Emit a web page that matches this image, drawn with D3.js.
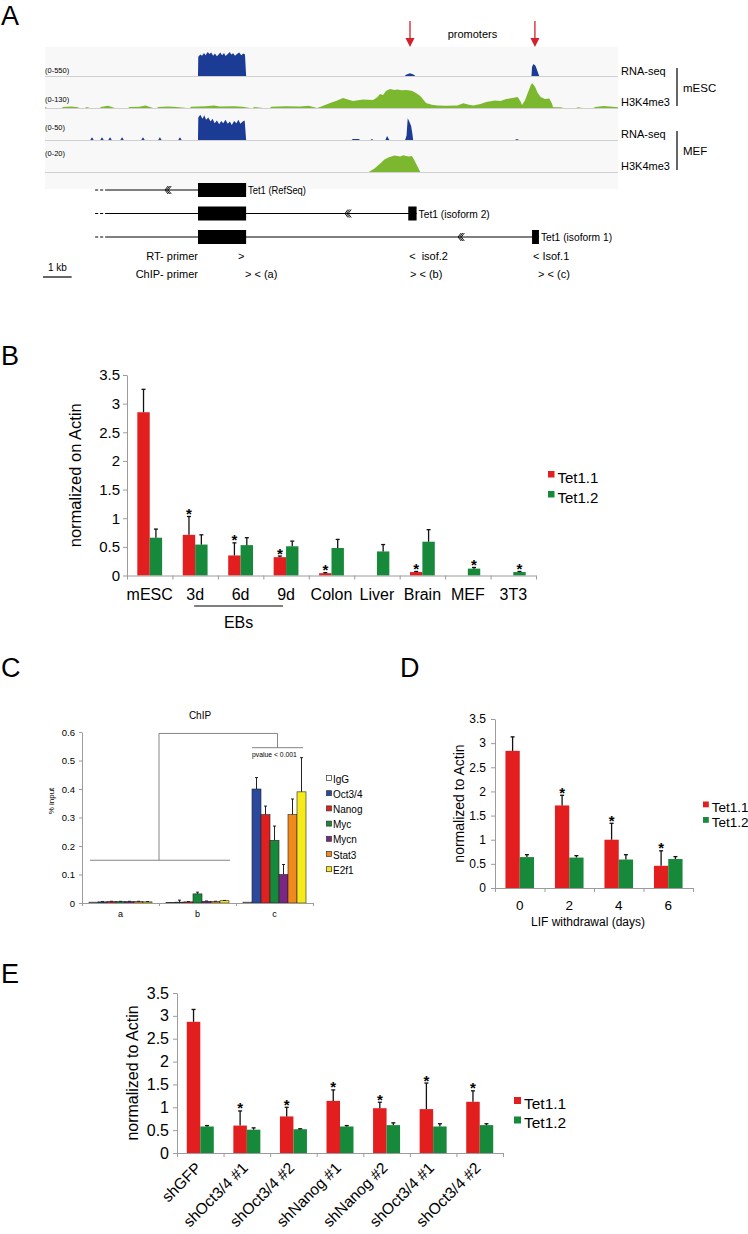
<!DOCTYPE html>
<html>
<head>
<meta charset="utf-8">
<script src="https://cdn.jsdelivr.net/npm/d3@7"></script>
<style>
body { margin: 0; background: #fff; }
text { font-family: "Liberation Sans", Arial, Helvetica, sans-serif; }
</style>
</head>
<body>
<script>
var W = 748, H = 1234;
var RED = "#e31e1e", GREEN = "#17893a";

// ---------- panel A data (genomic positions in kb)
var rnaEsc = [[5.34,0],[5.35,380],[5.42,420],[5.48,400],[5.55,450],[5.6,410],[5.68,470],[5.74,430],[5.8,460],[5.87,400],[5.93,440],[6.0,390],[6.06,420],[6.12,460],[6.18,410],[6.25,450],[6.3,395],[6.38,430],[6.45,470],[6.5,420],[6.57,445],[6.63,400],[6.7,430],[6.78,460],[6.85,410],[6.92,440],[6.98,420],[7.02,0],
  [12.55,0],[12.62,30],[12.74,55],[12.86,30],[12.93,0],
  [16.98,0],[17.0,180],[17.05,235],[17.12,200],[17.2,80],[17.25,0]];
var k4Esc = [[0,0],[0.02,5],[0.07,0],[0.59,0],[0.62,5],[0.9,7],[1.1,5],[1.22,0],[1.4,0],[1.45,5],[1.57,0],
  [1.92,0],[1.95,5],[2.2,10],[2.44,0],[2.9,0],[2.95,5],[3.3,6],[3.5,12],[3.77,0],[3.91,0],[3.95,5],[4.3,7],[4.6,5],[4.96,0],
  [5.06,0],[5.1,6],[5.6,8],[5.9,12],[6.1,7],[6.6,8],[6.9,6],[7.16,0],[7.26,0],[7.3,5],[7.61,0],
  [7.85,0],[7.9,6],[8.4,8],[8.9,7],[9.2,10],[9.49,0],
  [9.6,5],[9.95,23],[10.2,35],[10.4,46],[10.75,32],[11.1,40],[11.45,37],[11.6,50],[11.69,65],[11.8,60],[11.9,79],[12.04,88],[12.2,83],[12.3,86],[12.45,82],[12.6,84],[12.8,80],[12.95,70],[13.1,56],[13.3,23],[13.5,15],[13.7,12],[14.0,10],[14.4,12],[14.6,22],[14.8,15],[14.95,12],[15.2,18],[15.4,28],[15.7,35],[15.9,33],[16.1,42],[16.3,46],[16.5,51],[16.6,30],[16.65,14],[16.75,35],[16.85,70],[16.95,105],[17.0,116],[17.1,100],[17.2,70],[17.3,51],[17.45,42],[17.6,44],[17.7,20],[17.73,4],[17.9,4],[18.0,3],[18.1,0],
  [18.55,0],[18.6,3],[18.75,0],[19.15,0],[19.2,5],[19.5,9],[19.8,6],[20,4]];
var rnaMef = [[1.58,0],[1.64,5],[1.7,0],[1.93,0],[1.99,5],[2.05,0],[2.21,0],[2.27,5],[2.33,0],[2.63,0],[2.69,5],[2.75,0],
  [3.36,0],[3.42,5],[3.48,0],[3.95,0],[4.01,5],[4.07,0],[4.65,0],[4.71,5],[4.77,0],
  [5.34,0],[5.35,40],[5.42,45],[5.5,38],[5.56,44],[5.62,36],[5.7,40],[5.78,33],[5.85,38],[5.92,30],[6.0,35],[6.08,28],[6.15,34],[6.22,30],[6.3,36],[6.38,29],[6.45,33],[6.52,27],[6.6,34],[6.68,30],[6.75,36],[6.82,29],[6.9,33],[6.97,35],[7.02,0],
  [10.7,0],[10.75,2],[10.95,2],[11.0,0],[11.36,0],[11.41,2],[11.46,0],
  [11.88,0],[11.94,7],[12.02,0],[12.57,0],[12.62,8],[12.66,39],[12.7,35],[12.74,30],[12.78,25],[12.82,12],[12.85,0],
  [16.4,0],[16.47,2],[16.55,0]];
var k4Mef = [[11.3,0],[11.5,2.5],[11.7,6],[11.85,9],[12.0,10.5],[12.1,11],[12.2,11.8],[12.3,11.5],[12.4,11],[12.5,12],[12.6,11.5],[12.7,11],[12.8,11.5],[12.85,10],[12.95,6],[13.05,2],[13.1,0]];
var trackRanges = ["(0-550)", "(0-130)", "(0-50)", "(0-20)"];
var trackMax = [550, 130, 50, 20];
var trackTypes = ["RNA-seq", "H3K4me3", "RNA-seq", "H3K4me3"];
var cellTypes = ["mESC", "MEF"];
var isoNames = ["Tet1 (RefSeq)", "Tet1 (isoform 2)", "Tet1 (isoform 1)"];
var isoExons = [[[5.34,7.02]], [[5.34,7.02],[12.68,12.97]], [[5.34,7.02],[17.0,17.24]]];
var isoChevron = [4.19, 10.47, 14.42];
var isoStart = [1.75, 2.2];
var promoterKb = [12.74, 17.1];
var rtPrimers = [[6.74, ">"], [12.71, "<  isof.2"], [17.03, "< Isof.1"]];
var chipPrimers = [[6.98, "> < (a)"], [12.74, "> < (b)"], [17.21, "> < (c)"]];

// ---------- panel B data
var bCats = ["mESC", "3d", "6d", "9d", "Colon", "Liver", "Brain", "MEF", "3T3"];
var bTet11 = [2.85, 0.71, 0.35, 0.32, 0.04, 0, 0.06, 0, 0];
var bTet11Err = [0.40, 0.32, 0.22, 0.02, 0.01, 0, 0.01, 0, 0];
var bTet12 = [0.66, 0.54, 0.53, 0.51, 0.48, 0.42, 0.59, 0.12, 0.06];
var bTet12Err = [0.15, 0.17, 0.13, 0.09, 0.15, 0.12, 0.21, 0.02, 0.01];
var bStar11 = [0, 1, 1, 1, 1, 0, 1, 0, 0];
var bStar12 = [0, 0, 0, 0, 0, 0, 0, 1, 1];

// ---------- panel C data
var cSites = ["a", "b", "c"];
var cFactors = ["IgG", "Oct3/4", "Nanog", "Myc", "Mycn", "Stat3", "E2f1"];
var cColors = ["#ffffff", "#2b4a9e", "#e0201e", "#17893a", "#7a2784", "#f08a1c", "#f6ea1a"];
var cSiteA = [0.003, 0.004, 0.005, 0.005, 0.005, 0.005, 0.004];
var cSiteAErr = [0, 0.001, 0.001, 0.001, 0.001, 0.001, 0.001];
var cSiteB = [0.002, 0.003, 0.004, 0.032, 0.006, 0.005, 0.008];
var cSiteBErr = [0, 0.007, 0.001, 0.006, 0.001, 0.001, 0.001];
var cSiteC = [0.003, 0.40, 0.31, 0.22, 0.10, 0.31, 0.39];
var cSiteCErr = [0, 0.04, 0.03, 0.05, 0.035, 0.055, 0.12];
var cBracket = [0.15, 0.595, 0.545];

// ---------- panel D data
var dCats = ["0", "2", "4", "6"];
var dTet11 = [2.84, 1.71, 1.00, 0.46];
var dTet11Err = [0.29, 0.21, 0.34, 0.31];
var dTet12 = [0.64, 0.63, 0.59, 0.60];
var dTet12Err = [0.05, 0.04, 0.10, 0.05];
var dStar11 = [0, 1, 1, 1];

// ---------- panel E data
var eCats = ["shGFP", "shOct3/4 #1", "shOct3/4 #2", "shNanog #1", "shNanog #2", "shOct3/4 #1", "shOct3/4 #2"];
var eTet11 = [2.87, 0.60, 0.80, 1.14, 0.98, 0.96, 1.12];
var eTet11Err = [0.27, 0.32, 0.20, 0.24, 0.13, 0.57, 0.24];
var eTet12 = [0.58, 0.51, 0.52, 0.58, 0.61, 0.58, 0.61];
var eTet12Err = [0.02, 0.04, 0.01, 0.02, 0.05, 0.06, 0.03];
var eStar11 = [0, 1, 1, 1, 1, 1, 1];

var yTicks = [0, 0.5, 1, 1.5, 2, 2.5, 3, 3.5];
var seriesNames = ["Tet1.1", "Tet1.2"];

var svg = d3.select("body").append("svg")
  .attr("width", W)
  .attr("height", H);
svg.append("rect").attr("width", W).attr("height", H).attr("fill", "#fff");

function letter(t, x, y) {
  svg.append("text").attr("x", x).attr("y", y).attr("font-size", 27).text(t);
}

function styleAxis(g, size) {
  g.attr("font-family", null).attr("font-size", size);
  g.select(".domain").attr("stroke", "#9c9c9c");
  g.selectAll(".tick line").attr("stroke", "#9c9c9c");
  g.selectAll(".tick text").attr("fill", "#000");
}

// =============== A ===============
letter("A", 1, 25);
var xA = d3.scaleLinear().domain([0, 20]).range([45, 618]);
var trackBase = [76, 108, 140, 172];
var labelY = [73, 102, 130, 156];
var trackColor = ["#1b3b94", "#7cb82f", "#1b3b94", "#7cb82f"];
var trackData = [rnaEsc, k4Esc, rnaMef, k4Mef];
var gA = svg.append("g");
gA.append("rect")
  .attr("x", xA(0)).attr("y", 47)
  .attr("width", xA(20) - xA(0)).attr("height", 142)
  .attr("fill", "#f8f8f8");

trackData.forEach(function(data, i) {
  var y = d3.scaleLinear().domain([0, trackMax[i]]).range([trackBase[i], trackBase[i] - 28]);
  var area = d3.area().x(function(d) { return xA(d[0]); }).y0(y(0)).y1(function(d) { return y(d[1]); });
  gA.append("line")
    .attr("x1", xA(0)).attr("x2", xA(20))
    .attr("y1", trackBase[i] + 0.5).attr("y2", trackBase[i] + 0.5)
    .attr("stroke", "#cfcfcf");
  gA.append("path").datum(data).attr("d", area).attr("fill", trackColor[i]);
  gA.append("text").attr("x", xA(0)).attr("y", labelY[i])
    .attr("font-size", 7.5).text(trackRanges[i]);
});

// right labels and brackets
var typeY = [75, 106, 138, 170];
trackTypes.forEach(function(t, i) {
  gA.append("text").attr("x", 621).attr("y", typeY[i]).attr("font-size", 11).text(t);
});
cellTypes.forEach(function(c, i) {
  gA.append("line").attr("x1", 677).attr("x2", 677)
    .attr("y1", typeY[i * 2] - 7).attr("y2", typeY[i * 2 + 1])
    .attr("stroke", "#000").attr("stroke-width", 1.2);
  gA.append("text").attr("x", 683).attr("y", (typeY[i * 2] + typeY[i * 2 + 1]) / 2 + 1)
    .attr("font-size", 11.5).text(c);
});

// promoter arrows
promoterKb.forEach(function(p) {
  var x = xA(p);
  gA.append("line").attr("x1", x).attr("x2", x).attr("y1", 21).attr("y2", 39)
    .attr("stroke", "#d4202a").attr("stroke-width", 1.3);
  gA.append("path")
    .attr("d", "M" + (x - 4.5) + ",38L" + (x + 4.5) + ",38L" + x + ",47Z")
    .attr("fill", "#d4202a");
});
gA.append("text").attr("x", (xA(promoterKb[0]) + xA(promoterKb[1])) / 2).attr("y", 38)
  .attr("font-size", 11).attr("text-anchor", "middle").text("promoters");

// gene models
var rowY = [190, 213.5, 237];
isoNames.forEach(function(name, i) {
  var y = rowY[i];
  var exons = isoExons[i];
  var end = exons[exons.length - 1][1];
  gA.append("line").attr("x1", xA(isoStart[0])).attr("x2", xA(isoStart[1]))
    .attr("y1", y).attr("y2", y).attr("stroke", "#000").attr("stroke-dasharray", "3,2");
  gA.append("line").attr("x1", xA(isoStart[1])).attr("x2", xA(end))
    .attr("y1", y).attr("y2", y).attr("stroke", "#000").attr("stroke-width", 1.2);
  exons.forEach(function(e) {
    gA.append("rect").attr("x", xA(e[0])).attr("y", y - 7)
      .attr("width", xA(e[1]) - xA(e[0])).attr("height", 14).attr("fill", "#000");
  });
  var cx = xA(isoChevron[i]);
  [0, 1.6, 3.2].forEach(function(o) {
    gA.append("polyline")
      .attr("points", (cx + o + 3) + "," + (y - 4) + " " + (cx + o) + "," + y + " " + (cx + o + 3) + "," + (y + 4))
      .attr("fill", "none").attr("stroke", "#000").attr("stroke-width", 0.9);
  });
  gA.append("text").attr("x", xA(end) + 2).attr("y", y + 4)
    .attr("font-size", 10)
    .attr("textLength", name.length * 4.45).attr("lengthAdjust", "spacingAndGlyphs")
    .text(name);
});

// primers
gA.append("text").attr("x", xA(isoExons[0][0][0])).attr("y", 260)
  .attr("font-size", 11).attr("text-anchor", "end").text("RT- primer");
gA.append("text").attr("x", xA(isoExons[0][0][0])).attr("y", 278)
  .attr("font-size", 11).attr("text-anchor", "end").text("ChIP- primer");
rtPrimers.forEach(function(p) {
  gA.append("text").attr("x", xA(p[0])).attr("y", 260).attr("font-size", 11)
    .attr("xml:space", "preserve").style("white-space", "pre").text(p[1]);
});
chipPrimers.forEach(function(p) {
  gA.append("text").attr("x", xA(p[0])).attr("y", 278).attr("font-size", 11).text(p[1]);
});
gA.append("text").attr("x", 48).attr("y", 271).attr("font-size", 10).text("1 kb");
gA.append("line").attr("x1", xA(0) - 2).attr("x2", xA(1) - 2)
  .attr("y1", 277).attr("y2", 277).attr("stroke", "#000").attr("stroke-width", 1.2);

// =============== bar chart helper (B, D, E) ===============
function barChart(cfg, cats, v1, e1, v2, e2, s1, s2) {
  var g = svg.append("g");
  var idx = d3.range(cats.length);
  var x = d3.scaleBand().domain(idx).range([cfg.left, cfg.right]);
  var xb = d3.scaleLinear().domain([0, cats.length]).range([cfg.left, cfg.right]);
  var y = d3.scaleLinear().domain([0, 3.5]).range([cfg.bottom, cfg.top]);

  [[v1, e1, s1, RED, -1], [v2, e2, s2, GREEN, 0]].forEach(function(s) {
    var left = function(i) { return x(i) + x.bandwidth() / 2 + s[4] * cfg.barW; };
    var mid = function(i) { return left(i) + cfg.barW / 2; };
    g.selectAll(null).data(s[0]).enter().append("rect")
      .attr("x", function(d, i) { return left(i); })
      .attr("width", cfg.barW)
      .attr("y", function(d) { return y(d); })
      .attr("height", function(d) { return y(0) - y(d); })
      .attr("fill", s[3]);
    idx.forEach(function(i) {
      var v = s[0][i], e = s[1][i];
      if (e > 0) {
        g.append("line").attr("x1", mid(i)).attr("x2", mid(i))
          .attr("y1", y(v)).attr("y2", y(v + e)).attr("stroke", "#111").attr("stroke-width", 1.3);
        g.append("line").attr("x1", mid(i) - 2).attr("x2", mid(i) + 2)
          .attr("y1", y(v + e)).attr("y2", y(v + e)).attr("stroke", "#111").attr("stroke-width", 1.3);
      }
      if (s[2] && s[2][i]) {
        g.append("text").attr("x", mid(i)).attr("y", y(v + e) + 2.5)
          .attr("font-size", 15).attr("font-weight", "bold").attr("text-anchor", "middle").text("*");
      }
    });
  });

  var ya = g.append("g").attr("transform", "translate(" + cfg.left + ",0)")
    .call(d3.axisLeft(y).tickValues(yTicks).tickFormat(d3.format("")).tickSize(4).tickPadding(cfg.yPad).tickSizeOuter(0));
  styleAxis(ya, cfg.tickFont);
  var xt = g.append("g").attr("transform", "translate(0," + cfg.bottom + ")")
    .call(d3.axisBottom(xb).tickValues(d3.range(cats.length + 1)).tickFormat("").tickSize(4).tickSizeOuter(0));
  styleAxis(xt, cfg.tickFont);
  var xl = g.append("g").attr("transform", "translate(0," + cfg.bottom + ")")
    .call(d3.axisBottom(x).tickFormat(function(i) { return cats[i]; }).tickSize(0).tickPadding(cfg.xPad));
  xl.select(".domain").remove();
  styleAxis(xl, cfg.catFont);

  g.append("text")
    .attr("transform", "translate(" + cfg.yLabelX + "," + (cfg.top + cfg.bottom) / 2 + ") rotate(-90)")
    .attr("text-anchor", "middle").attr("font-size", cfg.yLabelFont).text(cfg.yLabel);

  seriesNames.forEach(function(n, i) {
    g.append("rect").attr("x", cfg.legX).attr("y", cfg.legY + i * cfg.legStep)
      .attr("width", cfg.legSq).attr("height", cfg.legSq).attr("fill", i ? GREEN : RED);
    g.append("text").attr("x", cfg.legX + cfg.legSq + 3).attr("y", cfg.legY + i * cfg.legStep + cfg.legFont * 0.77)
      .attr("font-size", cfg.legFont).text(n);
  });
  return { g: g, x: x, y: y, xl: xl };
}

// =============== B ===============
letter("B", 1, 365);
var pB = barChart({
  left: 127, right: 536, top: 375, bottom: 575.5, barW: 12.4,
  tickFont: 15, catFont: 16, yPad: 3, xPad: 13,
  yLabel: "normalized on Actin", yLabelX: 81, yLabelFont: 16.5,
  legX: 548, legY: 471, legStep: 20, legSq: 6.5, legFont: 15
}, bCats, bTet11, bTet11Err, bTet12, bTet12Err, bStar11, bStar12);
var ebX1 = pB.x(1) + pB.x.bandwidth() / 2 - 1;
var ebX2 = pB.x(3) + pB.x.bandwidth() / 2 - 3;
pB.g.append("line").attr("x1", ebX1).attr("x2", ebX2).attr("y1", 606).attr("y2", 606)
  .attr("stroke", "#000").attr("stroke-width", 1.2);
pB.g.append("text").attr("x", (ebX1 + ebX2) / 2).attr("y", 628)
  .attr("text-anchor", "middle").attr("font-size", 16).text("EBs");

// =============== C ===============
letter("C", 1, 677);
var gC = svg.append("g");
var xC = d3.scaleBand().domain(cSites).range([82, 313]);
var xCb = d3.scaleLinear().domain([0, cSites.length]).range([82, 313]);
var xIn = d3.scaleBand().domain(cFactors).range([7, xC.bandwidth() - 7]);
var yC = d3.scaleLinear().domain([0, 0.6]).range([903, 732]);
var cVals = [cSiteA, cSiteB, cSiteC];
var cErrs = [cSiteAErr, cSiteBErr, cSiteCErr];
cSites.forEach(function(site, si) {
  cFactors.forEach(function(f, fi) {
    var v = cVals[si][fi], e = cErrs[si][fi];
    var bx = xC(site) + xIn(f);
    var w = xIn.bandwidth();
    gC.append("rect").attr("x", bx).attr("y", yC(v))
      .attr("width", w).attr("height", yC(0) - yC(v))
      .attr("fill", cColors[fi]).attr("stroke", "#222").attr("stroke-width", 0.6);
    if (e > 0) {
      gC.append("line").attr("x1", bx + w / 2).attr("x2", bx + w / 2)
        .attr("y1", yC(v)).attr("y2", yC(v + e)).attr("stroke", "#222").attr("stroke-width", 1);
      gC.append("line").attr("x1", bx + w / 2 - 1.5).attr("x2", bx + w / 2 + 1.5)
        .attr("y1", yC(v + e)).attr("y2", yC(v + e)).attr("stroke", "#222").attr("stroke-width", 1);
    }
  });
});
var ycA = gC.append("g").attr("transform", "translate(82,0)")
  .call(d3.axisLeft(yC).tickValues([0, 0.1, 0.2, 0.3, 0.4, 0.5, 0.6]).tickFormat(d3.format("")).tickSize(3).tickPadding(4).tickSizeOuter(0));
styleAxis(ycA, 9.5);
var xcT = gC.append("g").attr("transform", "translate(0,903)")
  .call(d3.axisBottom(xCb).tickValues(d3.range(4)).tickFormat("").tickSize(3).tickSizeOuter(0));
styleAxis(xcT, 9);
var xcL = gC.append("g").attr("transform", "translate(0,903)")
  .call(d3.axisBottom(xC).tickSize(0).tickPadding(8));
xcL.select(".domain").remove();
styleAxis(xcL, 9);
gC.append("text").attr("transform", "translate(54,801) rotate(-90)")
  .attr("text-anchor", "middle").attr("font-size", 8).text("% input");
gC.append("text").attr("x", 200).attr("y", 719).attr("text-anchor", "middle")
  .attr("font-size", 10).text("ChIP");
// significance bracket
var brL = xC("a") + 8, brR = xC("b") + xC.bandwidth() - 6, brM = xC("b");
var brC = xC("c") + xC.bandwidth() / 2 + 3;
var bracketPath = "M" + brL + "," + yC(cBracket[0]) + "H" + brR +
  "M" + brM + "," + yC(cBracket[0]) + "V" + yC(cBracket[1]) + "H" + brC + "V" + yC(cBracket[2]) +
  "M" + (xC("c") + xIn("Oct3/4")) + "," + yC(cBracket[2]) + "H" + (xC("c") + xIn("E2f1") + xIn.bandwidth() - 3);
gC.append("path").attr("d", bracketPath).attr("fill", "none").attr("stroke", "#777").attr("stroke-width", 0.9);
gC.append("text").attr("x", brC - 3).attr("y", yC(cBracket[2]) + 9)
  .attr("text-anchor", "middle").attr("font-size", 6.8).text("pvalue < 0.001");
cFactors.forEach(function(f, i) {
  var ly = 779 + i * 15.2;
  gC.append("rect").attr("x", 326.5).attr("y", ly - 3.5).attr("width", 5).attr("height", 5)
    .attr("fill", cColors[i]).attr("stroke", "#333").attr("stroke-width", 0.7);
  gC.append("text").attr("x", 333).attr("y", ly + 3.5).attr("font-size", 10).text(f);
});

// =============== D ===============
letter("D", 400, 677);
var pD = barChart({
  left: 495, right: 693, top: 719, bottom: 888, barW: 14.3,
  tickFont: 12, catFont: 13.5, yPad: 5, xPad: 12,
  yLabel: "normalized to Actin", yLabelX: 464, yLabelFont: 14,
  legX: 703, legY: 801.5, legStep: 15.5, legSq: 5.8, legFont: 13.5
}, dCats, dTet11, dTet11Err, dTet12, dTet12Err, dStar11, null);
pD.g.append("text").attr("x", (495 + 693) / 2 - 6).attr("y", 926)
  .attr("text-anchor", "middle").attr("font-size", 12).text("LIF withdrawal (days)");

// =============== E ===============
letter("E", 1, 983);
var pE = barChart({
  left: 177, right: 503, top: 993, bottom: 1153, barW: 13.5,
  tickFont: 16, catFont: 15.5, yPad: 4, xPad: 0,
  yLabel: "normalized to Actin", yLabelX: 138, yLabelFont: 16,
  legX: 514, legY: 1097, legStep: 19.5, legSq: 7, legFont: 15.5
}, eCats, eTet11, eTet11Err, eTet12, eTet12Err, eStar11, null);
pE.xl.selectAll(".tick text")
  .attr("y", 0).attr("dy", 0)
  .attr("transform", "translate(2,16) rotate(-45)")
  .style("text-anchor", "end");
</script>
</body>
</html>
